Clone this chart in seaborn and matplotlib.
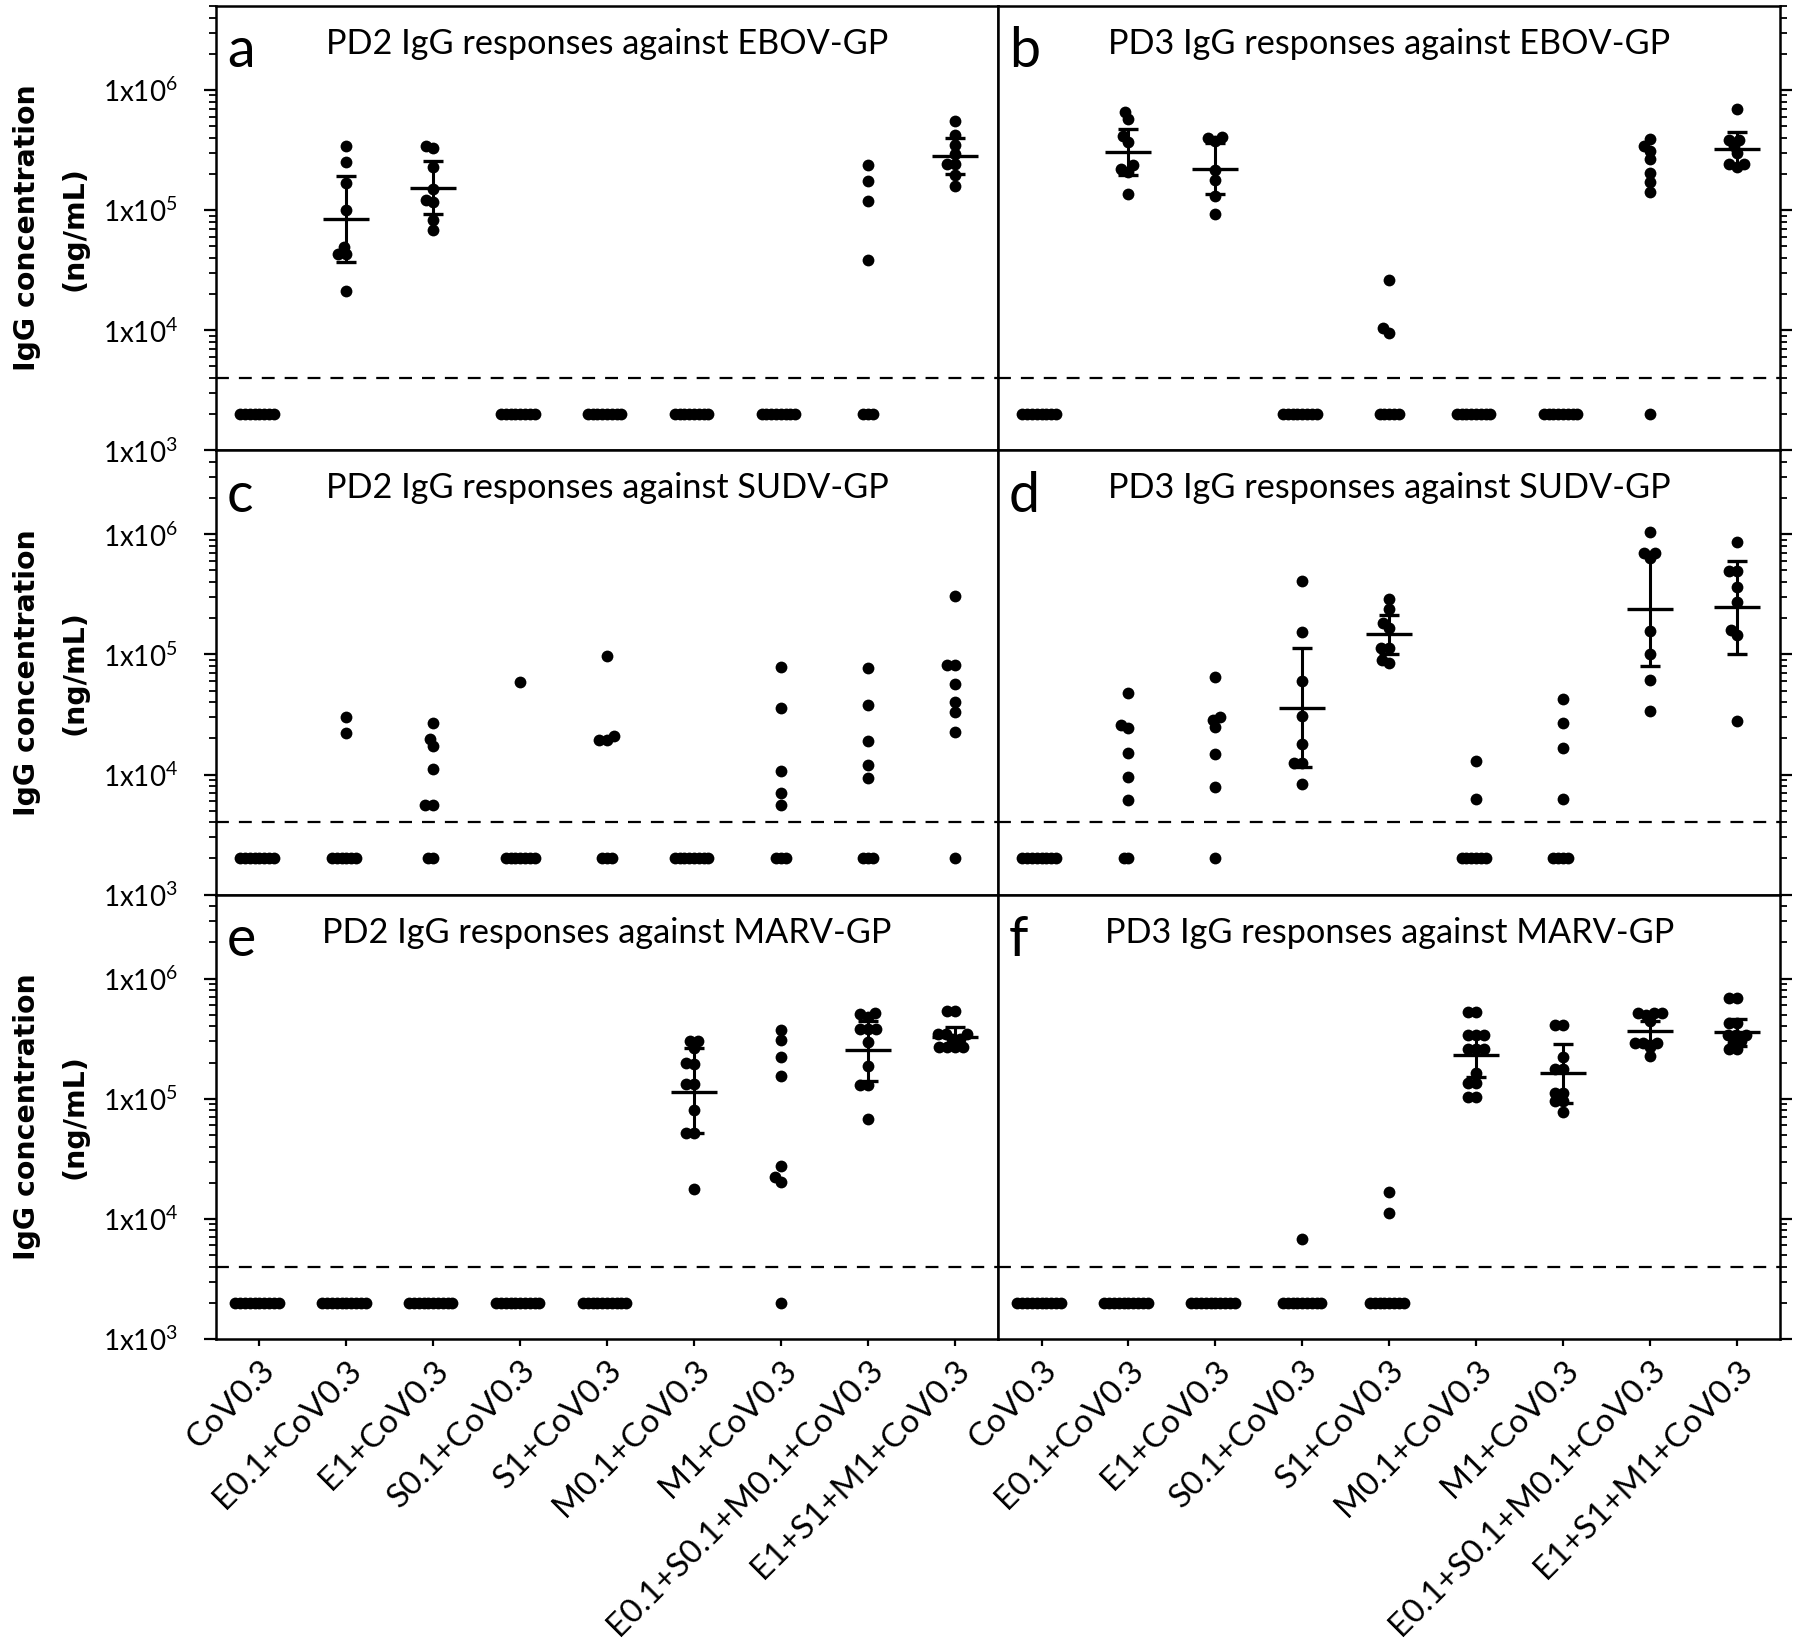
import numpy as np
import pandas as pd
import matplotlib
matplotlib.use("Agg")
import matplotlib.pyplot as plt
import seaborn as sns
from matplotlib.ticker import LogLocator, FuncFormatter, NullFormatter

plt.rcParams["font.family"] = ["Lato", "DejaVu Sans"]
plt.rcParams["mathtext.fontset"] = "custom"
plt.rcParams["mathtext.rm"] = "Lato"

groups = ["CoV0.3", "E0.1+CoV0.3", "E1+CoV0.3", "S0.1+CoV0.3", "S1+CoV0.3",
          "M0.1+CoV0.3", "M1+CoV0.3", "E0.1+S0.1+M0.1+CoV0.3", "E1+S1+M1+CoV0.3"]

LOD = 4000      # dashed cut-off line
FLOOR = 2000    # value used for mice below the cut-off

# ---- a: PD2 IgG vs EBOV-GP ----
a_high = {
    "E0.1+CoV0.3": [341000, 251000, 167000, 101000, 49200, 42800, 42800, 21100],
    "E1+CoV0.3": [341000, 327000, 230000, 151000, 121000, 116500, 82000, 67800],
    "E0.1+S0.1+M0.1+CoV0.3": [237000, 175000, 119000, 38100],
    "E1+S1+M1+CoV0.3": [552000, 419000, 346000, 291000, 240000, 240000, 194000, 157000],
}
a_floor = [8, 0, 0, 8, 8, 8, 8, 3, 0]
a_bars = {"E0.1+CoV0.3": (84800, 36900, 192000),
          "E1+CoV0.3": (152000, 92000, 255000),
          "E1+S1+M1+CoV0.3": (282000, 198000, 401000)}

# ---- b: PD3 IgG vs EBOV-GP ----
b_high = {
    "E0.1+CoV0.3": [649000, 570000, 414000, 369000, 237000, 221000, 209000, 135000],
    "E1+CoV0.3": [408000, 401000, 376000, 215000, 177000, 131000, 92000],
    "S1+CoV0.3": [26100, 10500, 9500],
    "E0.1+S0.1+M0.1+CoV0.3": [388000, 341000, 310000, 264000, 205000, 171000, 141000],
    "E1+S1+M1+CoV0.3": [690000, 383000, 383000, 341000, 297000, 240000, 240000, 226000],
}
b_floor = [8, 0, 0, 8, 5, 8, 8, 1, 0]
b_bars = {"E0.1+CoV0.3": (304000, 194000, 476000),
          "E1+CoV0.3": (221000, 137000, 360000),
          "E1+S1+M1+CoV0.3": (324000, 232000, 447000)}

# ---- c: PD2 IgG vs SUDV-GP ----
c_high = {
    "E0.1+CoV0.3": [30200, 22000],
    "E1+CoV0.3": [26600, 19600, 17200, 11200, 5620, 5620],
    "S0.1+CoV0.3": [58500],
    "S1+CoV0.3": [97300, 20800, 19300, 19300],
    "M1+CoV0.3": [78000, 36100, 10700, 7030, 5540],
    "E0.1+S0.1+M0.1+CoV0.3": [76400, 37800, 19100, 12100, 9380],
    "E1+S1+M1+CoV0.3": [308000, 81500, 81500, 56200, 39800, 33300, 22700],
}
c_floor = [8, 6, 2, 7, 3, 8, 3, 3, 1]
c_bars = {}

# ---- d: PD3 IgG vs SUDV-GP ----
d_high = {
    "E0.1+CoV0.3": [47900, 25700, 24600, 15100, 9550, 6110],
    "E1+CoV0.3": [65000, 30200, 28400, 24700, 14800, 7890],
    "S0.1+CoV0.3": [410000, 154000, 60000, 30600, 18100, 12400, 12400, 8410],
    "S1+CoV0.3": [287000, 237000, 183000, 165000, 112000, 112000, 89700, 85100],
    "M0.1+CoV0.3": [13000, 6310],
    "M1+CoV0.3": [42200, 26900, 16500, 6310],
    "E0.1+S0.1+M0.1+CoV0.3": [1040000, 703000, 695000, 631000, 156000, 101000, 61100, 33900],
    "E1+S1+M1+CoV0.3": [868000, 494000, 494000, 361000, 274000, 160000, 145000, 28000],
}
d_floor = [8, 2, 1, 0, 0, 6, 4, 0, 0]
d_bars = {"S0.1+CoV0.3": (35500, 11600, 113500),
          "S1+CoV0.3": (147000, 101000, 213000),
          "E0.1+S0.1+M0.1+CoV0.3": (237000, 80400, 716000),
          "E1+S1+M1+CoV0.3": (247000, 101000, 600000)}

# ---- e: PD2 IgG vs MARV-GP ----
e_high = {
    "M0.1+CoV0.3": [302000, 302000, 266000, 197000, 193000, 131500, 131500, 80400, 52100, 52100, 17800],
    "M1+CoV0.3": [373000, 306000, 224000, 156000, 27800, 22100, 20200],
    "E0.1+S0.1+M0.1+CoV0.3": [521000, 510000, 482000, 383000, 383000, 383000, 299000, 187000, 129000, 129000, 68100],
    "E1+S1+M1+CoV0.3": [537000, 537000, 343000, 343000, 343000, 312000, 312000, 271000, 271000, 271000, 271000],
}
e_floor = [10, 10, 10, 10, 10, 0, 1, 0, 0]
e_bars = {"M0.1+CoV0.3": (114000, 51700, 263000),
          "E0.1+S0.1+M0.1+CoV0.3": (254000, 140000, 444000),
          "E1+S1+M1+CoV0.3": (329000, 273000, 395000)}

# ---- f: PD3 IgG vs MARV-GP ----
f_high = {
    "S0.1+CoV0.3": [6800],
    "S1+CoV0.3": [16800, 11200],
    "M0.1+CoV0.3": [527000, 527000, 337000, 337000, 337000, 258000, 258000, 258000, 162500, 136000, 136000, 103000, 103000],
    "M1+CoV0.3": [411000, 411000, 224000, 178000, 178000, 112000, 112000, 95500, 95500, 77300],
    "E0.1+S0.1+M0.1+CoV0.3": [521000, 521000, 521000, 500000, 440000, 293000, 293000, 293000, 270000, 226000],
    "E1+S1+M1+CoV0.3": [695000, 695000, 430000, 430000, 337000, 337000, 337000, 300000, 293000, 258000, 258000],
}
f_floor = [10, 10, 10, 9, 8, 0, 0, 0, 0]
f_bars = {"M0.1+CoV0.3": (230000, 152000, 333000),
          "M1+CoV0.3": (162500, 93000, 287000),
          "E0.1+S0.1+M0.1+CoV0.3": (366000, 300000, 444000),
          "E1+S1+M1+CoV0.3": (359000, 277000, 464000)}

panels = [
    ("a", "PD2 IgG responses against EBOV-GP", a_high, a_floor, a_bars),
    ("b", "PD3 IgG responses against EBOV-GP", b_high, b_floor, b_bars),
    ("c", "PD2 IgG responses against SUDV-GP", c_high, c_floor, c_bars),
    ("d", "PD3 IgG responses against SUDV-GP", d_high, d_floor, d_bars),
    ("e", "PD2 IgG responses against MARV-GP", e_high, e_floor, e_bars),
    ("f", "PD3 IgG responses against MARV-GP", f_high, f_floor, f_bars),
]

DOT = 8.5          # drawn marker diameter (pt)
HIGH_SWARM = 5.5   # spacing used when swarming responders (dots may overlap a bit)
FLOOR_SWARM = 3.3  # tighter spacing for the piled-up non-responders

fig, axes = plt.subplots(3, 2, figsize=(18, 16.5), sharex=True, sharey=True)
fig.subplots_adjust(left=0.12, right=0.989, top=0.9964, bottom=0.1885,
                    wspace=0, hspace=0)

swarm_cols = []
for ax, (letter, title, high, floor, bars) in zip(axes.flat, panels):
    high_df = pd.DataFrame([(g, v) for g in groups for v in high.get(g, [])],
                           columns=["group", "igg"])
    floor_df = pd.DataFrame([(g, FLOOR) for g, n in zip(groups, floor) for _ in range(n)],
                            columns=["group", "igg"])

    n0 = len(ax.collections)
    sns.swarmplot(data=high_df, x="group", y="igg", order=groups, color="black",
                  size=HIGH_SWARM, linewidth=0, log_scale=True, ax=ax)
    sns.swarmplot(data=floor_df, x="group", y="igg", order=groups, color="black",
                  size=FLOOR_SWARM, linewidth=0, log_scale=True, ax=ax)
    swarm_cols += ax.collections[n0:]

    for g, (mean, lo, hi) in bars.items():
        ax.errorbar(groups.index(g), mean, yerr=[[mean - lo], [hi - mean]],
                    fmt="_", color="black", markersize=33, markeredgewidth=2.4,
                    elinewidth=2.2, capsize=7, capthick=2.2, zorder=5)

    ax.axhline(LOD, color="black", lw=1.6, ls=(0, (5.8, 4.5)))
    ax.set_xlabel("")
    ax.set_ylabel("")
    ax.text(0.014, 0.862, letter, transform=ax.transAxes, fontsize=40, va="baseline")
    ax.text(0.5, 0.892, title, transform=ax.transAxes, fontsize=24.7,
            ha="center", va="baseline")
    for s in ax.spines.values():
        s.set_linewidth(1.8)

for ax in axes.flat:
    ax.set_yscale("log")
    ax.set_ylim(1e3, 5e6)
    ax.set_xlim(-0.5, len(groups) - 0.5)
    ax.yaxis.set_major_locator(LogLocator(base=10, numticks=10))
    ax.yaxis.set_minor_locator(LogLocator(base=10, subs=np.arange(2, 10), numticks=20))
    ax.yaxis.set_minor_formatter(NullFormatter())
    ax.tick_params(axis="y", which="major", length=8.5, width=1.6)
    ax.tick_params(axis="y", which="minor", length=5, width=1.3)

for ax in axes[:, 0]:
    ax.yaxis.set_major_formatter(FuncFormatter(
        lambda v, p: r"1x10$^{\mathregular{%d}}$" % round(np.log10(v))))
    ax.tick_params(axis="y", labelsize=20, pad=19)
    ax.set_ylabel("IgG concentration\n(ng/mL)", fontsize=20.4, fontweight="bold",
                  family="DejaVu Sans", linespacing=1.9, labelpad=10)

for ax in axes[:, 1]:
    ax.yaxis.tick_right()
    ax.tick_params(axis="y", labelright=False, labelleft=False)

for ax in axes[:2].flat:
    ax.tick_params(axis="x", bottom=False, labelbottom=False)

for ax in axes[2]:
    ax.tick_params(axis="x", length=5, width=1.6, pad=6.3, labelsize=24)
    plt.setp(ax.get_xticklabels(), rotation=45, ha="right", rotation_mode="anchor")

# fix the swarm positions, then draw every dot at full size
fig.canvas.draw()
for pc in swarm_cols:
    if "draw" in vars(pc):
        del pc.draw
    pc.set_sizes([DOT ** 2])

fig.savefig("out.png", dpi=100)
